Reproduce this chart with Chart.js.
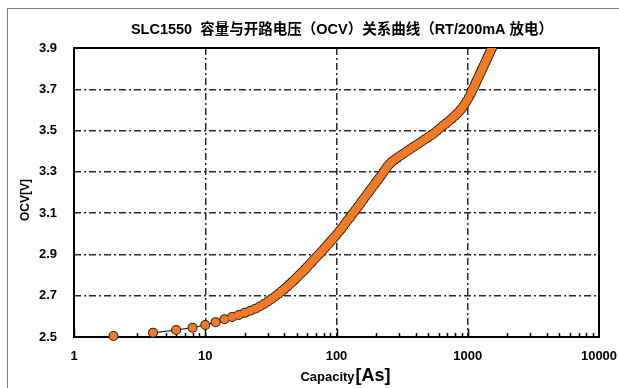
<!DOCTYPE html>
<html>
<head>
<meta charset="utf-8">
<script src="https://cdn.jsdelivr.net/npm/chart.js@4"></script>
<style>
  body { margin: 0; background: #fff; }
</style>
</head>
<body>
<canvas id="ocvChart" width="619" height="388"></canvas>
<script>
// 容量[As] 와 OCV[V]
const capacity = [
  2, 4, 6, 8, 10, 12, 14, 16, 18, 20,
  22, 24, 26, 28, 30, 32, 34, 36, 38, 40,
  42, 44, 46, 48, 50, 52, 54, 56, 58, 60,
  62.5, 65, 67.5, 70, 72.5, 75, 78, 81, 84, 87,
  90, 93, 96, 100, 105, 109, 113, 117, 121, 126,
  130, 135, 140, 145, 150, 155, 161, 167, 173, 179,
  185, 192, 199, 206, 213, 221, 229, 237, 245, 254,
  263, 277, 292, 308, 325, 342, 361, 380, 401, 423,
  446, 470, 495, 522, 550, 580, 611, 645, 679, 716,
  755, 796, 824, 854, 884, 916, 948, 982, 1018, 1055,
  1073, 1092, 1112, 1131, 1151, 1172, 1192, 1213, 1235, 1257,
  1279, 1302, 1325, 1349, 1372, 1397, 1421, 1446, 1472, 1498,
  1524, 1551, 1578, 1606, 1634
];
const ocv = [
  2.505, 2.52, 2.534, 2.545, 2.558, 2.572, 2.586, 2.597, 2.607, 2.617,
  2.627, 2.637, 2.648, 2.66, 2.672, 2.684, 2.696, 2.708, 2.72, 2.732,
  2.744, 2.756, 2.767, 2.778, 2.789, 2.80, 2.81, 2.82, 2.83, 2.84,
  2.852, 2.864, 2.875, 2.886, 2.896, 2.906, 2.918, 2.93, 2.941, 2.952,
  2.962, 2.972, 2.982, 2.995, 3.012, 3.025, 3.038, 3.051, 3.064, 3.077,
  3.09, 3.103, 3.116, 3.129, 3.142, 3.155, 3.168, 3.182, 3.195, 3.208,
  3.221, 3.234, 3.247, 3.26, 3.273, 3.286, 3.301, 3.314, 3.327, 3.338,
  3.348, 3.359, 3.369, 3.379, 3.389, 3.399, 3.408, 3.418, 3.428, 3.437,
  3.447, 3.457, 3.466, 3.476, 3.486, 3.498, 3.51, 3.522, 3.533, 3.545,
  3.558, 3.571, 3.58, 3.59, 3.601, 3.613, 3.627, 3.643, 3.66, 3.679,
  3.69, 3.70, 3.71, 3.72, 3.731, 3.741, 3.752, 3.762, 3.773, 3.783,
  3.794, 3.804, 3.815, 3.825, 3.836, 3.846, 3.857, 3.867, 3.878, 3.888,
  3.899, 3.909, 3.92, 3.93, 3.941
];
const xTicks = [1, 10, 100, 1000, 10000];
const yTicks = [2.5, 2.7, 2.9, 3.1, 3.3, 3.5, 3.7, 3.9];

const chartTitle = 'SLC1550  容量与开路电压（OCV）关系曲线（RT/200mA 放电）';
const xTitle = ['Capacity', '[As]'];
const yTitle = 'OCV[V]';

const FONT = '"Liberation Sans", "Noto Sans CJK SC", sans-serif';
const ORANGE = '#F37B26';
const INK = '#1e1e1e';

const points = capacity.map((c, i) => ({ x: c, y: ocv[i] }));

// 제목, 바깥 테두리, 안쪽 눈금
const decor = {
  id: 'decor',
  beforeDraw(chart) {
    const c = chart.ctx;
    c.save();
    c.fillStyle = '#fff';
    c.fillRect(0, 0, chart.width, chart.height);
    c.strokeStyle = '#808080';
    c.lineWidth = 1;
    c.strokeRect(7.5, 8.5, chart.width, chart.height);
    c.restore();
  },
  beforeDatasetsDraw(chart) {
    const c = chart.ctx;
    const a = chart.chartArea;
    const x = chart.scales.x;
    c.save();
    c.strokeStyle = '#000';
    c.lineWidth = 1.5;
    c.beginPath();
    for (let d = 1; d < 10000; d *= 10) {
      for (let k = 1; k < 10; k++) {
        const px = Math.round(x.getPixelForValue(d * k)) + 0.5;
        const len = k === 1 ? 8 : 4;
        c.moveTo(px, a.bottom);
        c.lineTo(px, a.bottom - len);
      }
    }
    c.stroke();
    c.lineWidth = 2;
    c.strokeRect(a.left, a.top, a.right - a.left, a.bottom - a.top);
    c.restore();
  },
  afterDraw(chart) {
    const c = chart.ctx;
    c.save();
    c.fillStyle = '#000';
    c.textBaseline = 'middle';
    c.textAlign = 'center';
    c.font = 'bold 14.5px ' + FONT;
    c.fillText(chartTitle, 342, 30);

    c.textAlign = 'left';
    c.textBaseline = 'alphabetic';
    c.font = 'bold 13px ' + FONT;
    const w1 = c.measureText(xTitle[0]).width;
    c.font = 'bold 18px ' + FONT;
    const w2 = c.measureText(xTitle[1]).width;
    const sx = 345 - (w1 + w2) / 2;
    c.font = 'bold 13px ' + FONT;
    c.fillText(xTitle[0], sx, 381);
    c.font = 'bold 18px ' + FONT;
    c.fillText(xTitle[1], sx + w1 + 1, 381);

    c.translate(26, 200);
    c.rotate(-Math.PI / 2);
    c.textAlign = 'center';
    c.textBaseline = 'middle';
    c.font = 'bold 12px ' + FONT;
    c.fillText(yTitle, 0, 0);
    c.restore();
  }
};

const gridColor = (ctx) => {
  const v = ctx.tick && ctx.tick.value;
  return (v === xTicks[0] || v === xTicks[xTicks.length - 1] ||
          v === yTicks[0] || v === yTicks[yTicks.length - 1]) ? 'rgba(0,0,0,0)' : '#2a2a2a';
};

const clipArea = { left: 10, right: 10, top: 0, bottom: 10 };

const ocvChart = new Chart(document.getElementById('ocvChart'), {
  type: 'scatter',
  data: {
    datasets: [{
      // 주황 점 (위)
      label: 'OCV',
      data: points,
      order: 1,
      showLine: false,
      pointRadius: 4,
      pointBackgroundColor: ORANGE,
      pointBorderWidth: 0,
      clip: clipArea
    }, {
      // 검은 선과 점 테두리 (아래)
      label: 'OCV outline',
      data: points,
      order: 2,
      showLine: true,
      borderColor: INK,
      borderWidth: 1.2,
      pointRadius: 5,
      pointBackgroundColor: INK,
      pointBorderWidth: 0,
      clip: clipArea,
      segment: {
        borderColor: (ctx) => ctx.p0DataIndex === 0 ? 'rgba(0,0,0,0)' : INK
      }
    }]
  },
  options: {
    responsive: false,
    animation: false,
    layout: { padding: { top: 48, right: 20, left: 8, bottom: 0 } },
    plugins: {
      legend: { display: false },
      title: { display: false },
      tooltip: { enabled: false }
    },
    scales: {
      x: {
        type: 'logarithmic',
        min: 1,
        max: 10000,
        afterBuildTicks: (scale) => { scale.ticks = xTicks.map(v => ({ value: v })); },
        afterFit: (scale) => { scale.height = 51; scale.paddingLeft = 0; scale.paddingRight = 0; },
        ticks: {
          autoSkip: false,
          maxRotation: 0,
          padding: 12,
          color: '#000',
          font: { family: FONT, size: 13, weight: 'bold' },
          callback: (v) => String(v)
        },
        grid: { drawTicks: false, color: gridColor, lineWidth: 1.5 },
        border: { display: false, dash: [7, 3, 2, 3] }
      },
      y: {
        min: 2.5,
        max: 3.9,
        afterBuildTicks: (scale) => { scale.ticks = yTicks.map(v => ({ value: v })); },
        afterFit: (scale) => { scale.width = 66; scale.paddingTop = 0; scale.paddingBottom = 0; },
        ticks: {
          padding: 17,
          color: '#000',
          font: { family: FONT, size: 13, weight: 'bold' },
          callback: (v) => Number(v).toFixed(1)
        },
        grid: { drawTicks: false, color: gridColor, lineWidth: 1.5 },
        border: { display: false, dash: [7, 3, 2, 3] }
      }
    }
  },
  plugins: [decor]
});
</script>
</body>
</html>
